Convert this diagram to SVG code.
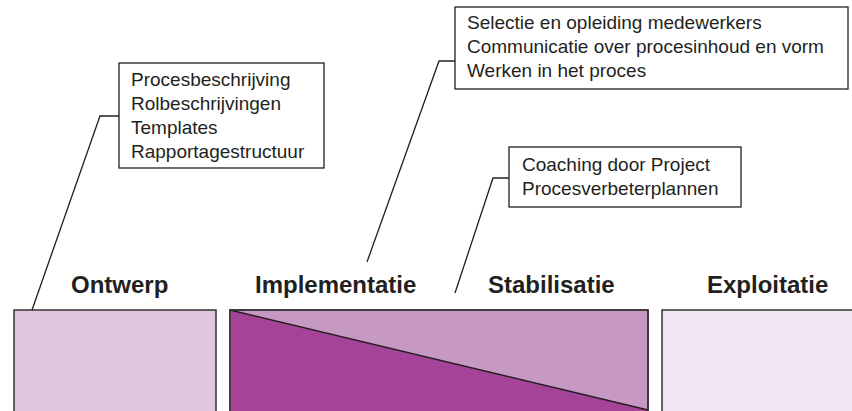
<svg xmlns="http://www.w3.org/2000/svg" width="852" height="411" viewBox="0 0 852 411">
<style>
.phase{stroke:#333;stroke-width:1.5}
.lbl{font-family:"Liberation Sans",Arial,Helvetica,sans-serif;font-weight:bold;font-size:24px;fill:#231f20}
.note{fill:#fff;stroke:#231f20;stroke-width:1.3}
.txt{font-family:"Liberation Sans",Arial,Helvetica,sans-serif;font-size:19px;fill:#231f20}
.conn{fill:none;stroke:#231f20;stroke-width:1.3}
</style>
<rect width="852" height="411" fill="#fff"/>
<g id="ontwerp">
<rect class="phase" x="14" y="310" width="202" height="110" fill="#e1c6e0"/>
<text class="lbl" x="71" y="293">Ontwerp</text>
</g>
<g id="implementatie-stabilisatie">
<rect class="phase" x="230" y="310" width="418" height="110" fill="#c898c5"/>
<polygon points="230,310 648,410 648,420 230,420" fill="#a44397" stroke="none"/>
<line x1="230" y1="310" x2="648" y2="410" stroke="#231f20" stroke-width="1.5"/>
<rect x="230" y="310" width="418" height="110" fill="none" stroke="#333" stroke-width="1.5"/>
<text class="lbl" x="255" y="293">Implementatie</text>
<text class="lbl" x="488" y="293">Stabilisatie</text>
</g>
<g id="exploitatie">
<rect class="phase" x="662" y="310" width="200" height="110" fill="#f2e5f1"/>
<text class="lbl" x="707" y="293">Exploitatie</text>
</g>
<g id="note-ontwerp">
<rect class="note" x="119" y="63" width="205" height="105"/>
<text class="txt" x="131" y="86">Procesbeschrijving</text>
<text class="txt" x="131" y="110">Rolbeschrijvingen</text>
<text class="txt" x="131" y="134">Templates</text>
<text class="txt" x="131" y="158">Rapportagestructuur</text>
</g>
<g id="note-implementatie">
<rect class="note" x="455" y="7" width="393" height="82"/>
<text class="txt" x="467" y="29">Selectie en opleiding medewerkers</text>
<text class="txt" x="467" y="53">Communicatie over procesinhoud en vorm</text>
<text class="txt" x="467" y="77">Werken in het proces</text>
</g>
<g id="note-stabilisatie">
<rect class="note" x="509" y="147" width="232" height="60"/>
<text class="txt" x="522" y="171">Coaching door Project</text>
<text class="txt" x="522" y="195">Procesverbeterplannen</text>
</g>
<g id="connectors">
<polyline class="conn" points="32,310 100,116 119,116"/>
<polyline class="conn" points="367,262 439,61 455,61"/>
<polyline class="conn" points="455,293 493,178 509,178"/>
</g>
</svg>
